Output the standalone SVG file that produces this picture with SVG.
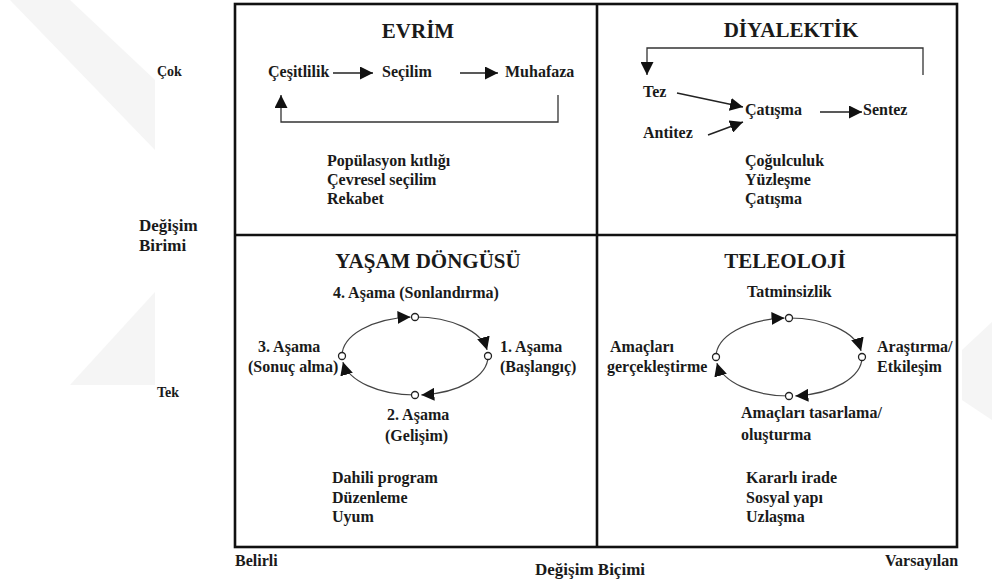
<svg xmlns="http://www.w3.org/2000/svg" width="992" height="582" viewBox="0 0 992 582" font-family="Liberation Serif, Times New Roman, serif">
<style>
text{font-weight:bold;fill:#1a1a1a}
.ttl{font-size:21px;text-anchor:middle}
.b{font-size:16px}
.ax{font-size:16px}
.frame{fill:none;stroke:#111;stroke-width:2.6}
.ln{fill:none;stroke:#222;stroke-width:1.5}
.fb{fill:none;stroke:#333;stroke-width:1.3}
.cyc{fill:none;stroke:#444;stroke-width:1.2}
.dot{fill:#fff;stroke:#222;stroke-width:1.3}
.wm{fill:#f5f5f5}
</style>
<defs>
<marker id="ah" viewBox="0 0 10 10" refX="10" refY="5" markerWidth="13" markerHeight="13" markerUnits="userSpaceOnUse" orient="auto"><path d="M0,0 L10,5 L0,10 z" fill="#111"/></marker>
<marker id="ahs" viewBox="0 0 10 10" refX="10" refY="5" markerWidth="13" markerHeight="13" markerUnits="userSpaceOnUse" orient="auto"><path d="M0,0 L10,5 L0,10 z" fill="#111"/></marker>
</defs>
<rect width="992" height="582" fill="#fff"/>
<g id="watermark">
<polygon class="wm" points="10,0 70,0 155,80 155,150"/>
<polygon class="wm" points="155,292 155,385 70,385"/>
<polygon class="wm" points="962,350 992,322 992,420 962,400"/>
</g>
<g id="frame">
<rect class="frame" x="235" y="4" width="722" height="543"/>
<line class="frame" x1="597" y1="4" x2="597" y2="547"/>
<line class="frame" x1="235" y1="235" x2="957" y2="235"/>
</g>
<g id="axes">
<text x="157" y="76" font-size="14">Çok</text>
<text x="139" y="231" font-size="17">Değişim</text>
<text x="139" y="251" font-size="17">Birimi</text>
<text x="157" y="397" font-size="14">Tek</text>
<text class="ax" x="235" y="566">Belirli</text>
<text x="535" y="575" font-size="17">Değişim Biçimi</text>
<text class="ax" x="885" y="566">Varsayılan</text>
</g>
<g id="evrim">
<text class="ttl" x="418" y="38">EVRİM</text>
<text class="b" x="268" y="77">Çeşitlilik</text>
<text class="b" x="382" y="77">Seçilim</text>
<text class="b" x="505" y="77">Muhafaza</text>
<text class="b" x="327" y="166">Popülasyon kıtlığı</text>
<text class="b" x="327" y="185">Çevresel seçilim</text>
<text class="b" x="327" y="204">Rekabet</text>
</g>
<g id="diyalektik">
<text class="ttl" x="791" y="37">DİYALEKTİK</text>
<text class="b" x="643" y="97">Tez</text>
<text class="b" x="643" y="138">Antitez</text>
<text class="b" x="745" y="115">Çatışma</text>
<text class="b" x="863" y="115">Sentez</text>
<text class="b" x="745" y="166">Çoğulculuk</text>
<text class="b" x="745" y="185">Yüzleşme</text>
<text class="b" x="745" y="204">Çatışma</text>
</g>
<g id="yasam-dongusu">
<text class="ttl" x="428" y="268">YAŞAM DÖNGÜSÜ</text>
<text class="b" x="333" y="298">4. Aşama (Sonlandırma)</text>
<text class="b" x="500" y="352">1. Aşama</text>
<text class="b" x="500" y="372">(Başlangıç)</text>
<text class="b" x="387" y="420">2. Aşama</text>
<text class="b" x="385" y="441">(Gelişim)</text>
<text class="b" x="258" y="352">3. Aşama</text>
<text class="b" x="248" y="372">(Sonuç alma)</text>
<text class="b" x="332" y="483">Dahili program</text>
<text class="b" x="332" y="503">Düzenleme</text>
<text class="b" x="332" y="522">Uyum</text>
</g>
<g id="teleoloji">
<text class="ttl" x="785" y="268">TELEOLOJİ</text>
<text class="b" x="747" y="297">Tatminsizlik</text>
<text class="b" x="877" y="352">Araştırma/</text>
<text class="b" x="877" y="372">Etkileşim</text>
<text class="b" x="741" y="418">Amaçları tasarlama/</text>
<text class="b" x="741" y="440">oluşturma</text>
<text class="b" x="610" y="352">Amaçları</text>
<text class="b" x="607" y="372">gerçekleştirme</text>
<text class="b" x="746" y="483">Kararlı irade</text>
<text class="b" x="746" y="503">Sosyal yapı</text>
<text class="b" x="746" y="522">Uzlaşma</text>
</g>
<g id="connectors">
<line class="ln" x1="333" y1="73" x2="373" y2="73" marker-end="url(#ah)"/>
<line class="ln" x1="460" y1="73" x2="498" y2="73" marker-end="url(#ah)"/>
<path class="fb" d="M558,95 V122 H281 V95" marker-end="url(#ah)"/>
<path class="fb" d="M923,75 V48 H647 V75" marker-end="url(#ah)"/>
<line class="ln" x1="677" y1="93" x2="743" y2="107" marker-end="url(#ah)"/>
<line class="ln" x1="708" y1="135" x2="743" y2="122" marker-end="url(#ah)"/>
<line class="ln" x1="820" y1="112" x2="862" y2="112" marker-end="url(#ah)"/>
<path class="cyc" d="M342,356 A73,39 0 0 1 410.5,317.1" marker-end="url(#ahs)"/>
<path class="cyc" d="M415,317 A73,39 0 0 1 487.1,349.9" marker-end="url(#ahs)"/>
<path class="cyc" d="M488,356 A73,39 0 0 1 421.4,394.9" marker-end="url(#ahs)"/>
<path class="cyc" d="M415,395 A73,39 0 0 1 342.9,362.1" marker-end="url(#ahs)"/>
<circle class="dot" cx="415" cy="317" r="3.5"/>
<circle class="dot" cx="488" cy="356" r="3.5"/>
<circle class="dot" cx="415" cy="395" r="3.5"/>
<circle class="dot" cx="342" cy="356" r="3.5"/>
<path class="cyc" d="M716,357 A73,39 0 0 1 784.5,318.1" marker-end="url(#ahs)"/>
<path class="cyc" d="M789,318 A73,39 0 0 1 861.1,350.9" marker-end="url(#ahs)"/>
<path class="cyc" d="M862,357 A73,39 0 0 1 795.4,395.9" marker-end="url(#ahs)"/>
<path class="cyc" d="M789,396 A73,39 0 0 1 716.9,363.1" marker-end="url(#ahs)"/>
<circle class="dot" cx="789" cy="318" r="3.5"/>
<circle class="dot" cx="862" cy="357" r="3.5"/>
<circle class="dot" cx="789" cy="396" r="3.5"/>
<circle class="dot" cx="716" cy="357" r="3.5"/>
</g>
</svg>
